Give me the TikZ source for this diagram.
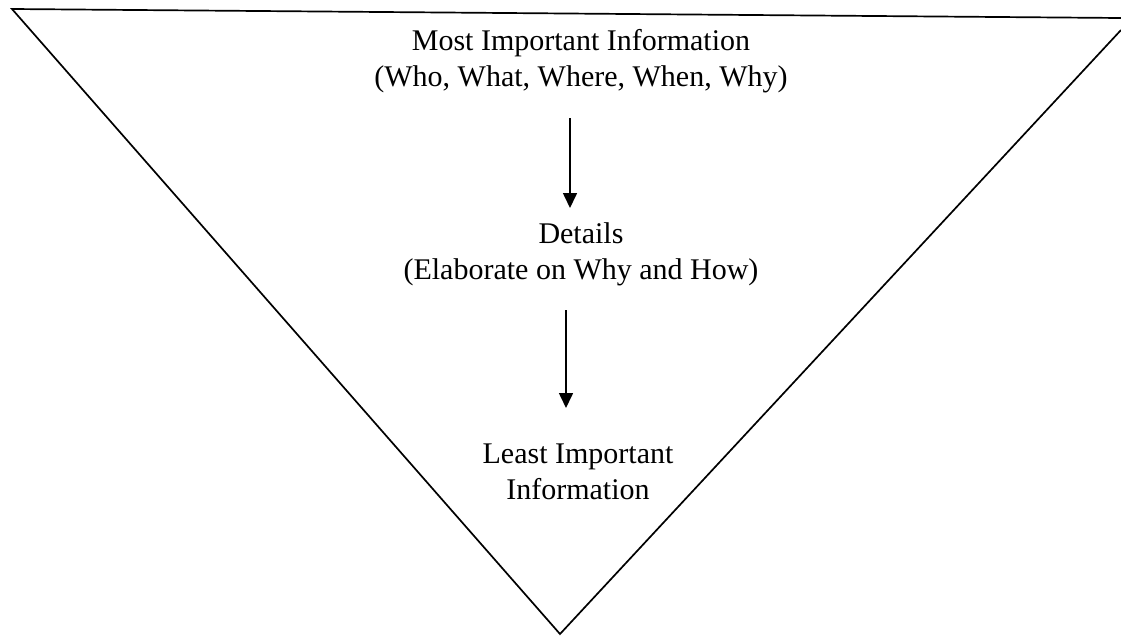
\documentclass[tikz,border=0pt]{standalone}
\usepackage{fontspec}
\setmainfont{Liberation Serif}
\usetikzlibrary{arrows.meta}
\begin{document}
\begin{tikzpicture}[x=1pt,y=-1pt,
  edge/.style={line width=1.7pt,line join=miter},
  label/.style={align=center,inner sep=0pt,font=\fontsize{30}{36}\selectfont},
  arr/.style={line width=1.6pt,-{Triangle[length=15pt,width=14pt]}}]
\useasboundingbox (0,0) rectangle (1121,635);
\fill[white] (0,0) rectangle (1121,635);
% funnel outline
\coordinate (tr) at (1121,18);
\coordinate (tl) at (12,9);
\coordinate (bv) at (560,634);
\coordinate (rr) at (1121,30);
\draw[edge] (tr) -- (tl) -- (bv) -- (rr);
% texts
\node[label] (top) at (581,61) {Most Important Information\\(Who, What, Where, When, Why)};
\node[label] (mid) at (581,254) {Details\\(Elaborate on Why and How)};
\node[label] (low) at (578,472) {Least Important\\Information};
% arrows
\coordinate (a1s) at (570,118);
\coordinate (a1e) at (570,208);
\coordinate (a2s) at (566,310);
\coordinate (a2e) at (566,408);
\draw[arr] (a1s) -- (a1e);
\draw[arr] (a2s) -- (a2e);
\end{tikzpicture}
\end{document}
